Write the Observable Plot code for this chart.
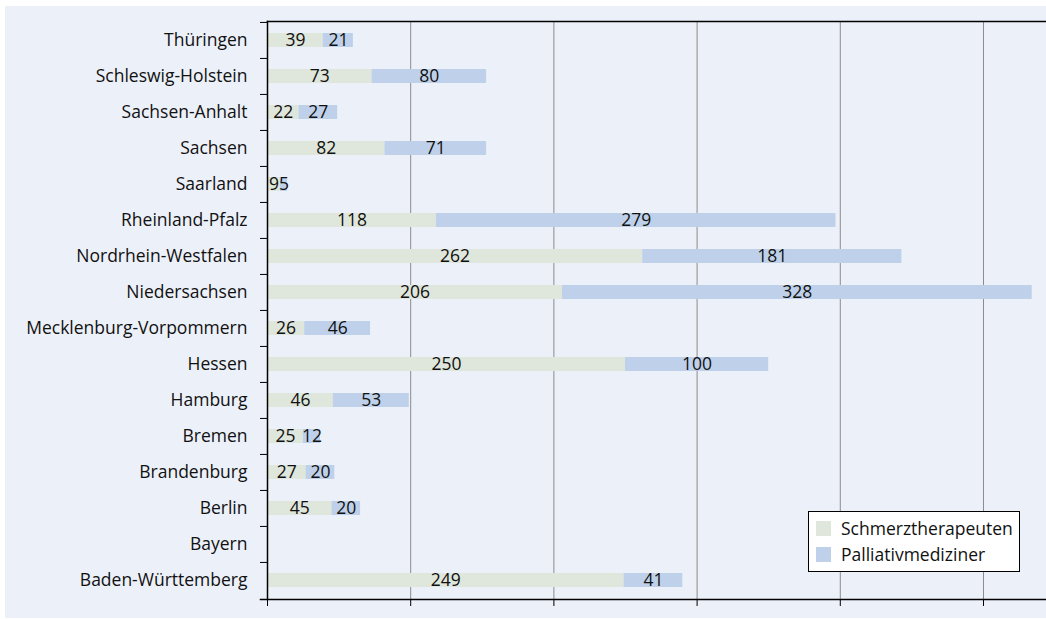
<!DOCTYPE html>
<html><head><meta charset="utf-8">
<script src="https://cdn.jsdelivr.net/npm/d3@7"></script>
<script src="https://cdn.jsdelivr.net/npm/@observablehq/plot@0.6"></script>
<style>
body{margin:0;background:#fff;font-family:"Open Sans",sans-serif;}
#wrap{position:relative;width:1046px;height:619px;overflow:hidden;}
#bg{position:absolute;left:5px;top:6px;width:1041px;height:612px;background:#ecf0f9;}
#chart{position:absolute;left:0;top:0;}
#legend{position:absolute;left:808px;top:511px;width:210px;height:59px;background:#fff;border:1px solid #000;box-sizing:content-box;}
.item{position:absolute;left:7px;display:flex;align-items:center;font-size:17.5px;color:#111;white-space:nowrap;}
.sw{width:15px;height:15px;margin-right:10px;}
</style></head>
<body>
<div id="wrap"><div id="bg"></div><div id="chart"></div><div id="legend"></div></div>
<script>
const states = ["Thüringen","Schleswig-Holstein","Sachsen-Anhalt","Sachsen","Saarland","Rheinland-Pfalz","Nordrhein-Westfalen","Niedersachsen","Mecklenburg-Vorpommern","Hessen","Hamburg","Bremen","Brandenburg","Berlin","Bayern","Baden-Württemberg"];
const schmerz = [39,73,22,82,9,118,262,206,26,250,46,25,27,45,null,249];
const palliativ = [21,80,27,71,5,279,181,328,46,100,53,12,20,20,null,41];
const series = ["Schmerztherapeuten","Palliativmediziner"];
const colors = ["#dfe6dc","#bfd1ea"];
const gridTicks = [100,200,300,400,500];
const axisTicks = [0,100,200,300,400,500];

const rows = [];
states.forEach((s,i)=>{
  [schmerz[i], palliativ[i]].forEach((v,j)=>{ if(v!=null) rows.push({state:s, series:series[j], value:v}); });
});

const H = 619, mTop = 21, mBottom = 20;
const step = (H - mTop - mBottom) / states.length;

const chart = Plot.plot({
  width:1046, height:H, marginLeft:267, marginRight:0, marginTop:mTop, marginBottom:mBottom,
  style:{background:"transparent", fontFamily:"'Open Sans',sans-serif", fontSize:"17.5px", color:"#111"},
  x:{domain:[0,544], axis:null},
  y:{domain:states, padding:0, axis:null},
  color:{domain:series, range:colors},
  marks:[
    Plot.gridX(gridTicks, {stroke:"#8c8c8c", strokeOpacity:1}),
    Plot.barX(rows, Plot.stackX({x:"value", y:"state", fill:"series", insetTop:11, insetBottom:11})),
    Plot.text(rows, Plot.stackX({x:"value", y:"state", z:"series", text:d=>String(d.value), fontSize:17.5, fill:"#111"})),
    Plot.axisY({tickSize:0, tickPadding:20, fontSize:17.5, fill:"#111", label:null}),
    Plot.axisY({tickSize:7, tickFormat:()=>"", dy:-step/2, stroke:"#000", label:null}),
    Plot.axisX(axisTicks, {anchor:"bottom", tickSize:7, tickFormat:()=>"", stroke:"#000", label:null}),
    Plot.frame({anchor:"top", stroke:"#000", strokeWidth:1.5}),
    Plot.frame({anchor:"left", stroke:"#000", strokeWidth:1.5}),
    Plot.frame({anchor:"bottom", stroke:"#000", strokeWidth:1.5, insetLeft:-7})
  ]
});
document.getElementById("chart").appendChild(chart);

const leg = document.getElementById("legend");
series.forEach((s,i)=>{
  const it = document.createElement("div");
  it.className = "item";
  it.style.top = (i===0 ? 4 : 30) + "px";
  const sw = document.createElement("span"); sw.className="sw"; sw.style.background = colors[i];
  const tx = document.createElement("span"); tx.textContent = s;
  it.appendChild(sw); it.appendChild(tx); leg.appendChild(it);
});
</script>
</body></html>
